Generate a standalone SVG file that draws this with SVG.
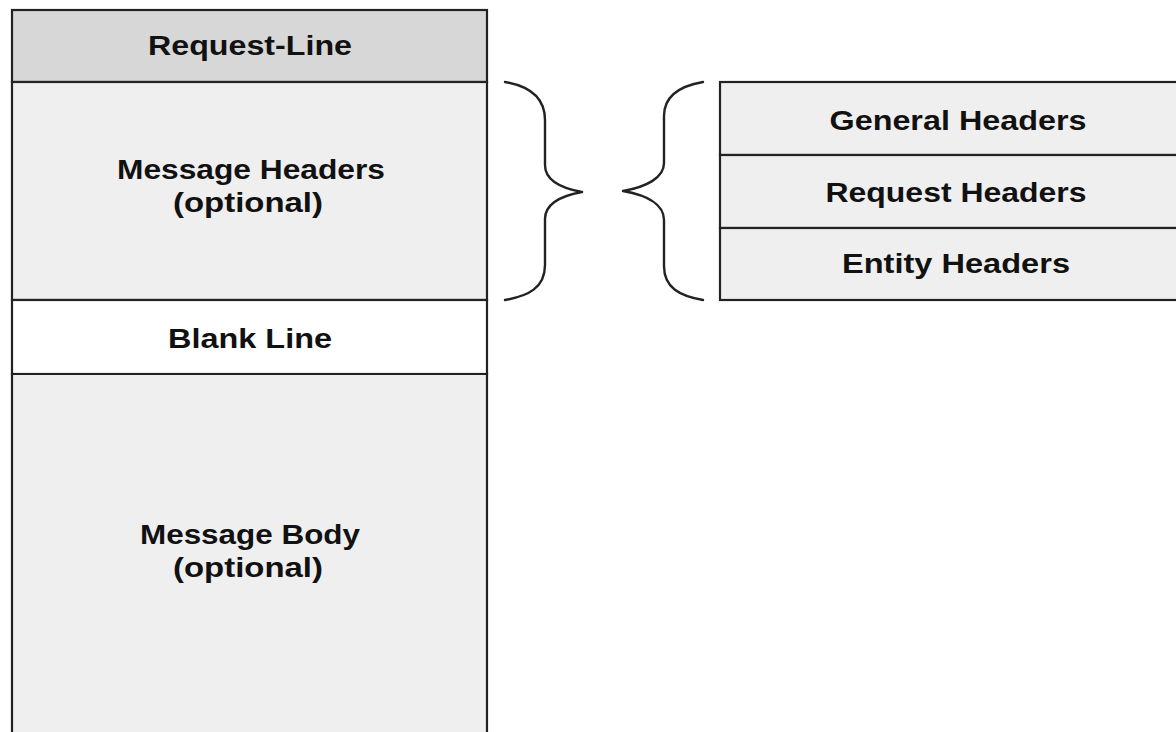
<svg xmlns="http://www.w3.org/2000/svg" width="1176" height="732" viewBox="0 0 1176 732">
<style>
.box{stroke:#222;stroke-width:2.2}
.lt{fill:#efefef}
.dk{fill:#d7d7d7}
.wh{fill:#ffffff}
.t{font-family:"Liberation Sans",Arial,sans-serif;font-weight:bold;font-size:27.5px;fill:#111;text-anchor:middle}
.br{fill:none;stroke:#222;stroke-width:2.4;stroke-linejoin:round;stroke-linecap:round}
</style>
<rect width="1176" height="732" fill="#ffffff"/>
<g id="request-line">
<rect class="box dk" x="12" y="10" width="475" height="72"/>
<text class="t" x="250" y="55" textLength="204" lengthAdjust="spacingAndGlyphs">Request-Line</text>
</g>
<g id="message-headers">
<rect class="box lt" x="12" y="82" width="475" height="218"/>
<text class="t" x="251" y="179" textLength="268" lengthAdjust="spacingAndGlyphs">Message Headers</text>
<text class="t" x="248" y="212" textLength="150" lengthAdjust="spacingAndGlyphs">(optional)</text>
</g>
<g id="blank-line">
<rect class="box wh" x="12" y="300" width="475" height="74"/>
<text class="t" x="250" y="348" textLength="164" lengthAdjust="spacingAndGlyphs">Blank Line</text>
</g>
<g id="message-body">
<path class="box lt" d="M12,740 V374 H487 V740"/>
<text class="t" x="250" y="544" textLength="220" lengthAdjust="spacingAndGlyphs">Message Body</text>
<text class="t" x="248" y="577" textLength="150" lengthAdjust="spacingAndGlyphs">(optional)</text>
</g>
<g id="general-headers">
<rect class="box lt" x="720" y="82" width="470" height="73"/>
<text class="t" x="958" y="130" textLength="257" lengthAdjust="spacingAndGlyphs">General Headers</text>
</g>
<g id="request-headers">
<rect class="box lt" x="720" y="155" width="470" height="73"/>
<text class="t" x="956" y="202" textLength="261" lengthAdjust="spacingAndGlyphs">Request Headers</text>
</g>
<g id="entity-headers">
<rect class="box lt" x="720" y="228" width="470" height="72"/>
<text class="t" x="956" y="273" textLength="228" lengthAdjust="spacingAndGlyphs">Entity Headers</text>
</g>
<g id="connectors">
<path class="br" d="M505,82 C528,86 545,96 545,120 V165 C545,180 560,188 582,192 C560,196 545,204 545,219 V265 C545,288 528,296 505,300"/>
<path class="br" d="M703,82 C680,86 664,96 664,116 V163 C664,178 646,187 623,191 C646,195 664,204 664,220 V266 C664,288 680,296 703,300"/>
</g>
</svg>
